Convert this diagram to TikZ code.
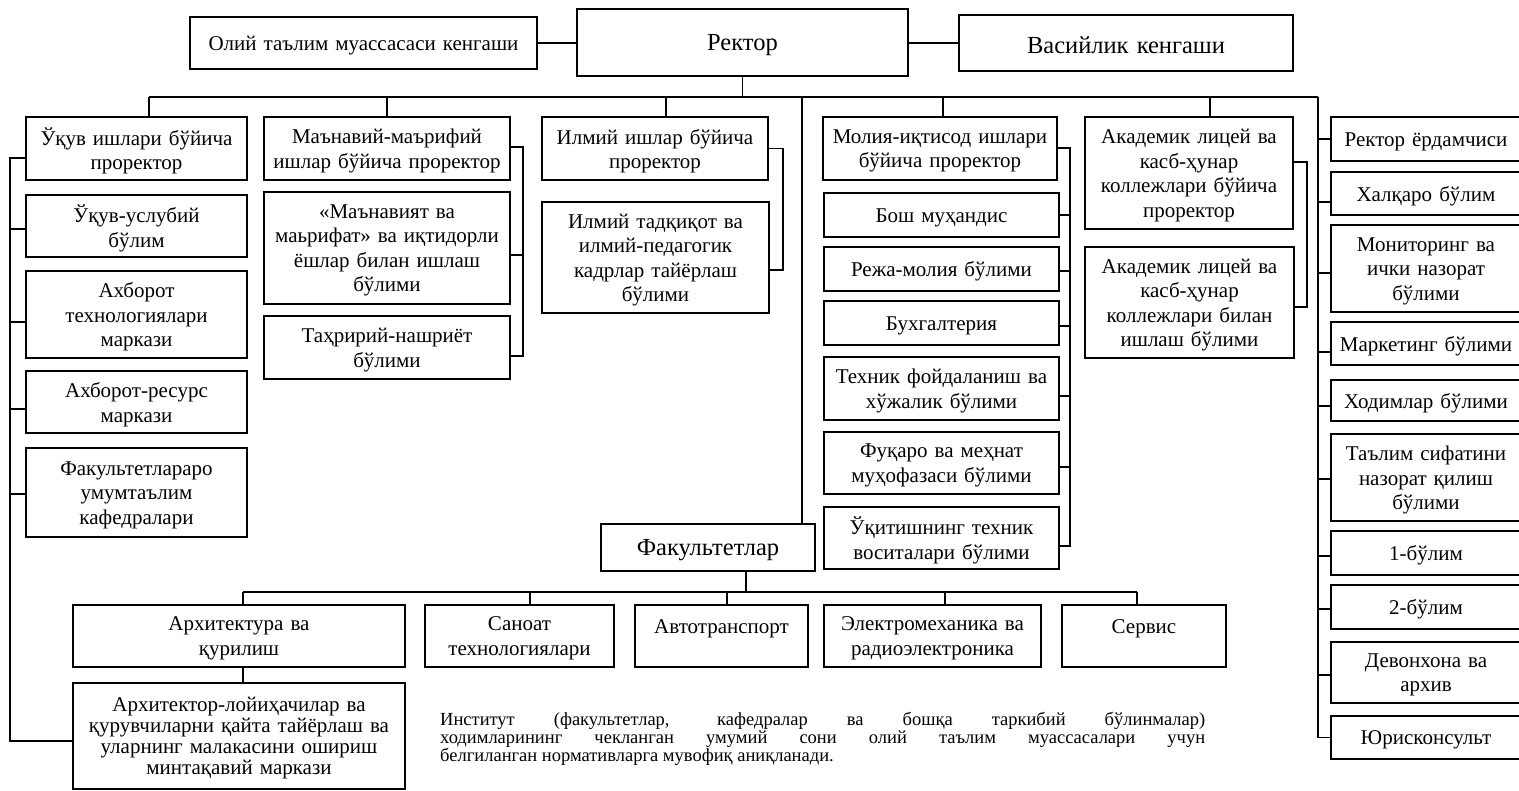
\documentclass[tikz,border=0pt]{standalone}
\usepackage{fontspec}
\setmainfont{Liberation Serif}
\usetikzlibrary{calc}
\tikzset{
  box/.style={draw=black, line width=1.3pt, inner sep=0pt},
  txt/.style={inner sep=0pt, align=center, font=\fontsize{21}{24.5}\selectfont},
  big/.style={font=\fontsize{24.5}{28}\selectfont},
  link/.style={draw=black, line width=1.3pt}
}
\newcommand\bx[7][]{%
  \pgfmathsetmacro\bxw{#5-#3}%
  \pgfmathsetmacro\bxh{#6-#4}%
  \pgfmathsetmacro\bxx{(#3+#5)/2}%
  \pgfmathsetmacro\bxy{(#4+#6)/2}%
  \pgfmathsetmacro\bxt{#5-#3-6}%
  \node[box,minimum width=\bxw pt,minimum height=\bxh pt] (#2) at (\bxx,\bxy) {};
  \node[txt,text width=\bxt pt,#1] (#2-t) at ([yshift=-2.5pt]#2.center) {#7};}
\newcommand\stubE[3]{\path ([yshift=#3pt]#1.east) coordinate (tmp); \draw[link] (tmp) -- (tmp -| #2);}
\newcommand\stubW[3]{\path ([yshift=#3pt]#1.west) coordinate (tmp); \draw[link] (tmp) -- (tmp -| #2);}
\begin{document}
\begin{tikzpicture}[x=1pt,y=-1pt]
\useasboundingbox[fill=white] (0,0) rectangle (1519,791);
% top row
\bx{olii}{190}{17}{537}{69}{Олий таълим муассасаси кенгаши}
\bx[big]{rektor}{577}{9}{908}{76}{Ректор}
\bx[big]{vasiy}{959}{15}{1293}{71}{Васийлик кенгаши}
% left column
\bx{ukuv}{26}{117}{247}{180}{Ўқув ишлари бўйича\\проректор}
\bx{ukusl}{26}{195}{247}{257}{Ўқув-услубий\\бўлим}
\bx{axtex}{26}{271}{247}{358}{Ахборот\\технологиялари\\маркази}
\bx{axres}{26}{371}{247}{433}{Ахборот-ресурс\\маркази}
\bx{fakar}{26}{448}{247}{537}{Факультетлараро\\умумтаълим\\кафедралари}
% manaviy column
\bx{maan}{264}{117}{510}{180}{Маънавий-маърифий\\ишлар бўйича проректор}
\bx{maanb}{264}{192}{510}{304}{«Маънавият ва\\маьрифат» ва иқтидорли\\ёшлар билан ишлаш\\бўлими}
\bx{tahr}{264}{316}{510}{379}{Таҳририй-нашриёт\\бўлими}
% ilmiy column
\bx{ilm}{542}{117}{768}{180}{Илмий ишлар бўйича\\проректор}
\bx{tadq}{542}{202}{769}{313}{Илмий тадқиқот ва\\илмий-педагогик\\кадрлар тайёрлаш\\бўлими}
% moliya column
\bx{moliya}{823}{117}{1057}{180}{Молия-иқтисод ишлари\\бўйича проректор}
\bx{bosh}{824}{193}{1059}{237}{Бош муҳандис}
\bx{reja}{824}{247}{1059}{291}{Режа-молия бўлими}
\bx{bux}{824}{301}{1059}{345}{Бухгалтерия}
\bx{texf}{824}{357}{1059}{420}{Техник фойдаланиш ва\\хўжалик бўлими}
\bx{fuq}{824}{432}{1059}{494}{Фуқаро ва меҳнат\\муҳофазаси бўлими}
\bx{ukit}{824}{507}{1059}{569}{Ўқитишнинг техник\\воситалари бўлими}
% akademik column
\bx{akad}{1085}{117}{1293}{229}{Академик лицей ва\\касб-ҳунар\\коллежлари бўйича\\проректор}
\bx{akadb}{1085}{247}{1294}{358}{Академик лицей ва\\касб-ҳунар\\коллежлари билан\\ишлаш бўлими}
% right column
\bx{ra}{1331}{117}{1521}{161}{Ректор ёрдамчиси}
\bx{rb}{1331}{172}{1521}{215}{Халқаро бўлим}
\bx{rc}{1331}{225}{1521}{312}{Мониторинг ва\\ички назорат\\бўлими}
\bx{rd}{1331}{322}{1521}{365}{Маркетинг бўлими}
\bx{re}{1331}{380}{1521}{421}{Ходимлар бўлими}
\bx{rf}{1331}{434}{1521}{521}{Таълим сифатини\\назорат қилиш\\бўлими}
\bx{rg}{1331}{531}{1521}{575}{1-бўлим}
\bx{rh}{1331}{585}{1521}{629}{2-бўлим}
\bx{ri}{1331}{642}{1521}{703}{Девонхона ва\\архив}
\bx{rj}{1331}{716}{1521}{759}{Юрисконсульт}
% faculties
\bx[big]{fak}{601}{524}{815}{571}{Факультетлар}
\bx{arx}{73}{605}{405}{667}{Архитектура ва\\қурилиш}
\bx{san}{425}{605}{614}{667}{Саноат\\технологиялари}
\bx{avto}{635}{605}{808}{667}{Автотранспорт\\\mbox{}}
\bx{elek}{824}{605}{1041}{667}{Электромеханика ва\\радиоэлектроника}
\bx{serv}{1062}{605}{1226}{667}{Сервис\\\mbox{}}
\bx[font=\fontsize{21}{21}\selectfont]{arxl}{73}{683}{405}{789}{Архитектор-лойиҳачилар ва\\қурувчиларни қайта тайёрлаш ва\\уларнинг малакасини ошириш\\минтақавий маркази}
% note
\node[anchor=north west, inner sep=0pt, align=left, font=\fontsize{18.5}{18}\selectfont] (note) at (440,712)
{\makebox[765pt][s]{Институт (факультетлар, кафедралар ва бошқа таркибий бўлинмалар)}\\
 \makebox[765pt][s]{ходимларининг чекланган умумий сони олий таълим муассасалари учун}\\
 белгиланган нормативларга мувофиқ аниқланади.};
% top links
\draw[link] (olii.east) -- (olii.east -| rektor.west);
\draw[link] (vasiy.west -| rektor.east) -- (vasiy.west);
% main bus
\coordinate (busL) at (149,97);
\coordinate (busR) at (1318,97);
\draw[link] (rektor.south) -- (rektor.south |- busL);
\draw[link] (busL) -- (busR);
\draw[link] (busL) -- (busL |- ukuv.north);
\coordinate (dM) at (387,97);  \draw[link] (dM) -- (dM |- maan.north);
\coordinate (dI) at (666,97);  \draw[link] (dI) -- (dI |- ilm.north);
\coordinate (dF) at (802,97);  \draw[link] (dF) -- (dF |- fak.north);
\coordinate (dMo) at (943,97); \draw[link] (dMo) -- (dMo |- moliya.north);
\coordinate (dA) at (1210,97); \draw[link] (dA) -- (dA |- akad.north);
% left trunk
\coordinate (LT) at (10,0);
\path ([yshift=-9.5pt]ukuv.west) coordinate (l0);
\path ([yshift=-5pt]arxl.west) coordinate (l9);
\draw[link] (l0) -- (l0 -| LT) -- (l9 -| LT) -- (l9);
\stubW{ukusl}{LT}{-3}
\stubW{axtex}{LT}{-7.5}
\stubW{axres}{LT}{-7}
\stubW{fakar}{LT}{-1.5}
% manaviy trunk
\coordinate (MT) at (523,0);
\path ([yshift=1.5pt]maan.east) coordinate (m0);
\path ([yshift=-8.5pt]tahr.east) coordinate (m2);
\draw[link] (m0) -- (m0 -| MT) -- (m2 -| MT) -- (m2);
\stubE{maanb}{MT}{-7}
% ilmiy trunk
\coordinate (IT) at (783,0);
\path ([yshift=-12.5pt]tadq.east) coordinate (i1);
\draw[link] (ilm.east) -- (ilm.east -| IT) -- (i1 -| IT) -- (i1);
% moliya trunk
\coordinate (OT) at (1070,0);
\path ([yshift=0.5pt]moliya.east) coordinate (o0);
\path ([yshift=-8pt]ukit.east) coordinate (o6);
\draw[link] (o0) -- (o0 -| OT) -- (o6 -| OT) -- (o6);
\stubE{bosh}{OT}{0}
\stubE{reja}{OT}{-2}
\stubE{bux}{OT}{-3}
\stubE{texf}{OT}{-7.5}
\stubE{fuq}{OT}{-4}
% akademik trunk
\coordinate (AT) at (1307,0);
\path ([yshift=11pt]akad.east) coordinate (a0);
\path ([yshift=-4.5pt]akadb.east) coordinate (a1);
\draw[link] (a0) -- (a0 -| AT) -- (a1 -| AT) -- (a1);
% right trunk
\path (rj.west) coordinate (rjz);
\draw[link] (busR) -- (busR |- rjz) -- (rjz);
\stubW{ra}{busR}{0}
\stubW{rb}{busR}{-8.5}
\stubW{rc}{busR}{-4.5}
\stubW{rd}{busR}{-8.5}
\stubW{re}{busR}{-5.5}
\stubW{rf}{busR}{-1.5}
\stubW{rg}{busR}{-3}
\stubW{rh}{busR}{-2}
\stubW{ri}{busR}{-2.5}
% faculty bus
\coordinate (fbL) at (243,592);
\coordinate (fbR) at (1137,592);
\coordinate (fup) at (746,592);
\draw[link] (fak.south -| fup) -- (fup);
\draw[link] (fbL) -- (fbR);
\draw[link] (fbL) -- (fbL |- arx.north);
\coordinate (f2) at (530,592); \draw[link] (f2) -- (f2 |- san.north);
\coordinate (f3) at (727,592); \draw[link] (f3) -- (f3 |- avto.north);
\coordinate (f4) at (945,592); \draw[link] (f4) -- (f4 |- elek.north);
\draw[link] (fbR) -- (fbR |- serv.north);
\draw[link] (arx.south -| fbL) -- (arxl.north -| fbL);
\end{tikzpicture}
\end{document}
